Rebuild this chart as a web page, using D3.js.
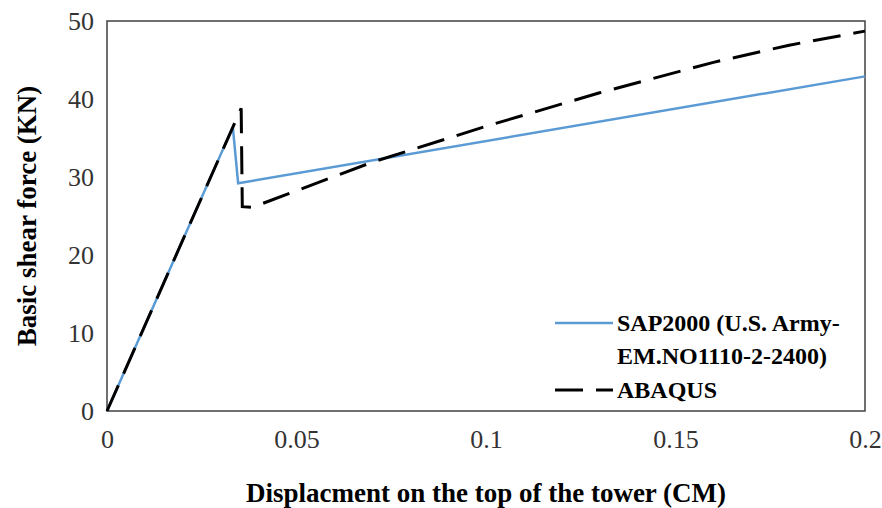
<!DOCTYPE html>
<html>
<head>
<meta charset="utf-8">
<script src="https://cdn.jsdelivr.net/npm/d3@7"></script>
<style>
  body { margin: 0; background: #fff; }
  svg text { font-family: "Liberation Serif", "Times New Roman", serif; }
</style>
</head>
<body>
<svg id="chart" width="882" height="508"></svg>
<script>
// displacement (CM) / base shear (KN)
var sapX = [0, 0.0332, 0.0346, 0.2];
var sapY = [0, 36.4, 29.2, 42.9];
var abqX = [0, 0.0354, 0.0357, 0.0383, 0.07, 0.1, 0.13, 0.16, 0.18, 0.2];
var abqY = [0, 38.8, 26.2, 26.1, 31.9, 36.5, 40.8, 44.7, 46.9, 48.7];
var xTicks = [0, 0.05, 0.1, 0.15, 0.2];
var yTicks = [0, 10, 20, 30, 40, 50];

var chart = d3.select("#chart");
var pLeft = 107, pRight = 865, pTop = 21, pBottom = 411;

var xScale = d3.scaleLinear().domain([0, 0.2]).range([pLeft, pRight]);
var yScale = d3.scaleLinear().domain([0, 50]).range([pBottom, pTop]);

var sap = sapX.map(function(d, i) { return [d, sapY[i]]; });
var abq = abqX.map(function(d, i) { return [d, abqY[i]]; });

var line = d3.line()
    .x(function(d) { return xScale(d[0]); })
    .y(function(d) { return yScale(d[1]); });

// box
chart.append("rect")
    .attr("x", pLeft).attr("y", pTop)
    .attr("width", pRight - pLeft).attr("height", pBottom - pTop)
    .attr("fill", "none").attr("stroke", "#404040").attr("stroke-width", 1.5);

chart.append("path")
    .datum(sap)
    .attr("d", line)
    .attr("fill", "none")
    .attr("stroke", "#5b9bd5")
    .attr("stroke-width", 2.5);

chart.append("path")
    .datum(abq)
    .attr("d", line)
    .attr("fill", "none")
    .attr("stroke", "#000")
    .attr("stroke-width", 3)
    .attr("stroke-dasharray", "28,13");

// axes, labels only
var xAxis = chart.append("g")
    .attr("transform", "translate(0," + pBottom + ")")
    .call(d3.axisBottom(xScale).tickValues(xTicks).tickSize(0).tickPadding(19)
        .tickFormat(function(d) { return String(d); }));
xAxis.select(".domain").remove();
xAxis.selectAll("text").attr("font-size", "26px").attr("fill", "#333")
    .style("font-family", "'Liberation Serif', serif");

var yAxis = chart.append("g")
    .attr("transform", "translate(" + pLeft + ",0)")
    .call(d3.axisLeft(yScale).tickValues(yTicks).tickSize(0).tickPadding(13));
yAxis.select(".domain").remove();
yAxis.selectAll("text").attr("font-size", "26px").attr("fill", "#333")
    .style("font-family", "'Liberation Serif', serif");

chart.append("text")
    .text("Displacment on the top of the tower (CM)")
    .attr("x", (pLeft + pRight) / 2)
    .attr("y", 502)
    .attr("text-anchor", "middle")
    .attr("font-size", "27px")
    .attr("font-weight", "bold");

chart.append("text")
    .text("Basic shear force (KN)")
    .attr("transform", "translate(36," + ((pTop + pBottom) / 2) + ") rotate(-90)")
    .attr("text-anchor", "middle")
    .attr("font-size", "27px")
    .attr("font-weight", "bold");

// legend
var legend = chart.append("g");
legend.append("line")
    .attr("x1", 555).attr("x2", 613).attr("y1", 323).attr("y2", 323)
    .attr("stroke", "#5b9bd5").attr("stroke-width", 2.5);
legend.append("text").text("SAP2000 (U.S. Army-")
    .attr("x", 617).attr("y", 331).attr("font-size", "24px").attr("font-weight", "bold");
legend.append("text").text("EM.NO1110-2-2400)")
    .attr("x", 617).attr("y", 364).attr("font-size", "24px").attr("font-weight", "bold");
legend.append("line")
    .attr("x1", 555).attr("x2", 613).attr("y1", 390).attr("y2", 390)
    .attr("stroke", "#000").attr("stroke-width", 3)
    .attr("stroke-dasharray", "28,13");
legend.append("text").text("ABAQUS")
    .attr("x", 617).attr("y", 398).attr("font-size", "24px").attr("font-weight", "bold");
</script>
</body>
</html>
